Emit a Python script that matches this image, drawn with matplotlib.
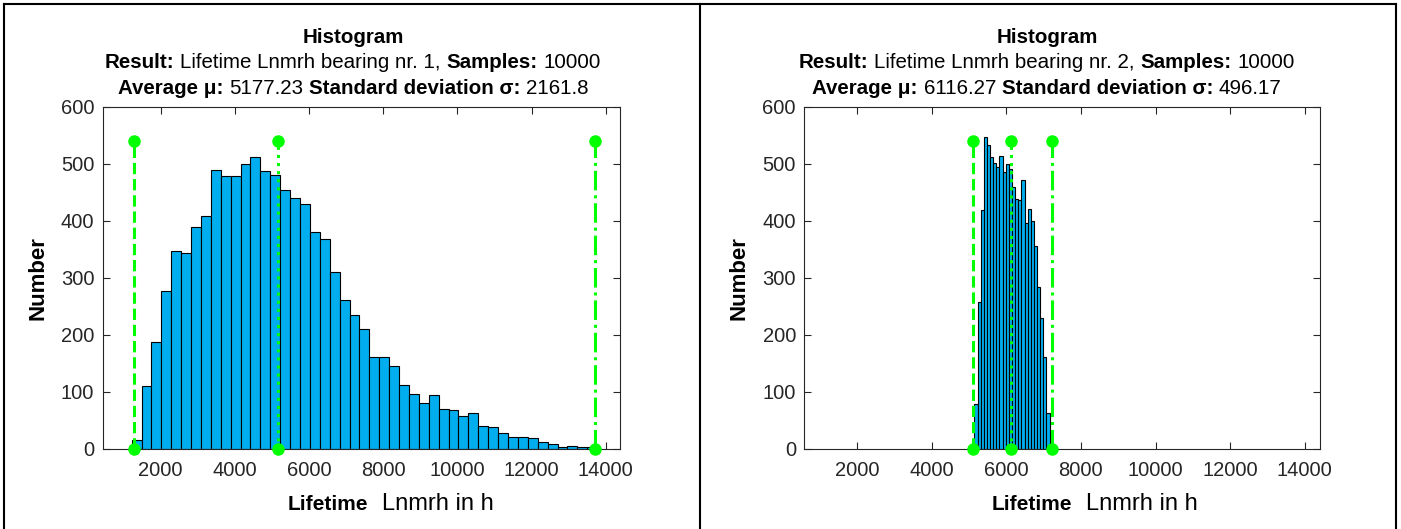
import matplotlib
matplotlib.use("Agg")
import matplotlib.pyplot as plt
from matplotlib.lines import Line2D
import numpy as np

plt.rcParams['font.family'] = ['Liberation Sans', 'DejaVu Sans']

# ---------------- data ----------------
# Bearing 1 histogram
b1_start = 1219.0
b1_width = 267.0
b1_counts = [15, 109, 187, 277, 347, 343, 390, 409, 489, 479, 479, 499, 513, 487,
             480, 455, 440, 429, 380, 368, 310, 261, 234, 210, 160, 160, 145, 112,
             96, 80, 94, 69, 67, 57, 63, 40, 38, 27, 20, 20, 19, 11, 8, 3, 5, 3, 2]
b1_lines = [1281, 5177.23, 13715]
b1_title = ("Lifetime Lnmrh bearing nr. 1,", "10000", "5177.23", "2161.8")

# Bearing 2 histogram
b2_start = 5145.0
b2_width = 84.0
b2_counts = [78, 258, 419, 547, 534, 512, 502, 495, 514, 485, 499, 491, 459, 438,
             436, 472, 397, 420, 400, 356, 283, 230, 160, 63]
b2_lines = [5118, 6116.27, 7220]
b2_title = ("Lifetime Lnmrh bearing nr. 2,", "10000", "6116.27", "496.17")

xticks = [2000, 4000, 6000, 8000, 10000, 12000, 14000]
yticks = [0, 100, 200, 300, 400, 500, 600]
line_styles = ['--', ':', '-.']

W, H = 1401, 529
fig = plt.figure(figsize=(W / 100, H / 100), dpi=100)

def px_rect(x0, y0, x1, y1):
    return [x0 / W, 1 - y1 / H, (x1 - x0) / W, (y1 - y0) / H]

AXC = '#262626'
BAR = '#00AEEF'
GREEN = '#00FF00'

def mixed(xc, y, pieces, align='center', gap=None):
    r = fig.canvas.get_renderer()
    ts = []
    for s, b, size in pieces:
        t = fig.text(0, 1 - y / H, s, fontsize=size, fontweight='bold' if b else 'normal',
                     ha='left', va='baseline', color='black')
        ts.append(t)
    fig.canvas.draw()
    ws = [t.get_window_extent(r).width for t in ts]
    if gap is None:
        size = pieces[0][2]
        tmp1 = fig.text(0, 0, 'x x', fontsize=size)
        tmp2 = fig.text(0, 0, 'xx', fontsize=size)
        gap = tmp1.get_window_extent(r).width - tmp2.get_window_extent(r).width
        tmp1.remove(); tmp2.remove()
    total = sum(ws) + gap * (len(ws) - 1)
    x = xc - total / 2 if align == 'center' else xc
    for t, w in zip(ts, ws):
        t.set_x(x / W)
        x += w + gap

TS = 14.8

def panel(rect, start, width, counts, lines, title, tcx, xl_left, xlim):
    ax = fig.add_axes(rect)
    edges_left = start + width * np.arange(len(counts))
    ax.bar(edges_left, counts, width=width, align='edge', color=BAR,
           edgecolor='black', linewidth=0.8, zorder=2)
    for xv, ls in zip(lines, line_styles):
        ax.plot([xv, xv], [0, 540], color=GREEN, linestyle=ls, linewidth=2.2,
                marker='o', markersize=8, markerfacecolor=GREEN,
                markeredgecolor=GREEN, zorder=3, clip_on=False)
    ax.set_xlim(*xlim)
    ax.set_ylim(0, 600)
    ax.set_xticks(xticks)
    ax.set_yticks(yticks)
    ax.tick_params(direction='in', length=5, width=0.8, colors=AXC,
                   labelsize=14.5, top=True, right=True, pad=6)
    ax.tick_params(axis='x', pad=9)
    for s in ax.spines.values():
        s.set_color(AXC)
        s.set_linewidth(0.8)
    ax.set_ylabel('Number', fontsize=16, fontweight='bold', labelpad=9)
    mixed(tcx, 43, [('Histogram', True, TS)])
    mixed(tcx, 68, [('Result:', True, TS), (title[0], False, TS),
                    ('Samples:', True, TS), (title[1], False, TS)])
    mixed(tcx, 94, [('Average μ:', True, TS), (title[2], False, TS),
                    ('Standard deviation σ:', True, TS), (title[3], False, TS)])
    mixed(xl_left, 510, [('Lifetime', True, 15), ('Lnmrh in h', False, 17)],
          align='left', gap=14)
    return ax

ax1 = panel(px_rect(102.7, 107, 620.5, 448.5), b1_start, b1_width, b1_counts, b1_lines,
            b1_title, 353, 288, (439, 14397))
ax2 = panel(px_rect(804.3, 107, 1319.6, 448.5), b2_start, b2_width, b2_counts, b2_lines,
            b2_title, 1047, 992, (587, 14397))

# panel frames
for seg in [((4, 4), (4, H)), ((700, 700), (4, H)), ((1396, 1396), (4, H)), ((4, 1396), (4, 4))]:
    xs = [v / W for v in seg[0]]
    ys = [1 - v / H for v in seg[1]]
    fig.add_artist(Line2D(xs, ys, color='black', linewidth=1.5, transform=fig.transFigure))

fig.savefig('out.png', dpi=100)
